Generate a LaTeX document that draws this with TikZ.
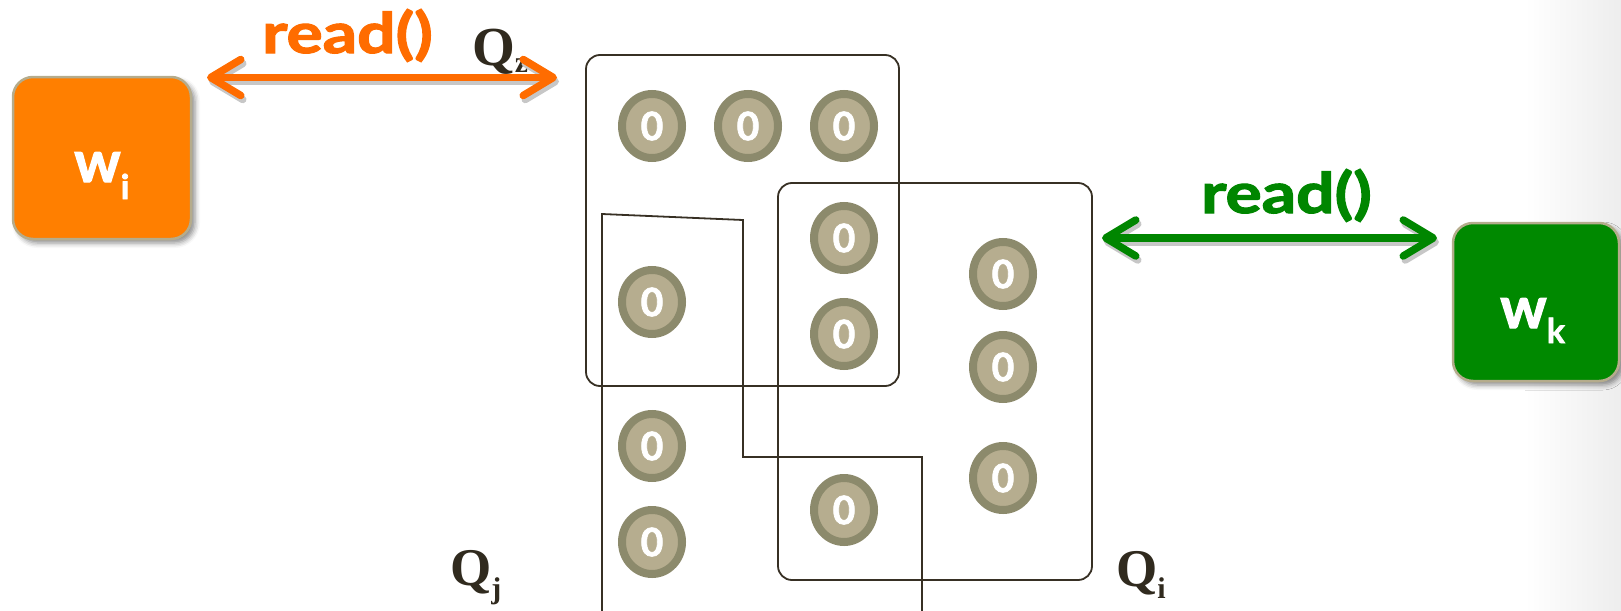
\documentclass[tikz,border=0pt]{standalone}
\usepackage{fontspec}
\setmainfont{Liberation Serif}
\newfontfamily\labelsans{Lato}[BoldFeatures={FakeBold=2}]
\usetikzlibrary{arrows.meta,shapes.geometric,shadows.blur}

\definecolor{wiorange}{RGB}{255,127,0}
\definecolor{readorange}{RGB}{255,108,0}
\definecolor{wkgreen}{RGB}{0,137,0}
\definecolor{readgreen}{RGB}{0,134,0}
\definecolor{boxedge}{RGB}{181,172,140}
\definecolor{setline}{RGB}{55,48,36}
\definecolor{ringdark}{RGB}{140,138,108}
\definecolor{ringlight}{RGB}{182,173,143}
\definecolor{qtext}{RGB}{48,42,30}

\tikzset{
  workerbox/.style={draw=boxedge, line width=2.5pt, rounded corners=20pt,
    blur shadow={shadow xshift=4pt, shadow yshift=-4pt, shadow blur radius=5pt, shadow opacity=45}},
  wlabel/.style={inner sep=0pt, anchor=base west, text=white,
    font=\labelsans\bfseries\fontsize{58}{60}\selectfont},
  readlabel/.style={inner sep=0pt, anchor=base west,
    font=\labelsans\bfseries\fontsize{56}{60}\selectfont},
  readarrow/.style={line width=7.5pt,
    {Straight Barb[length=30pt,width=36pt,round]}-{Straight Barb[length=30pt,width=36pt,round]}},
  arrowshade/.style={readarrow, draw=black!22, transform canvas={shift={(2pt,-4pt)}}},
  setbox/.style={draw=setline, line width=1.8pt, rounded corners=14pt, inner sep=0pt},
  setedge/.style={draw=setline, line width=1.8pt},
  replica/.style={ellipse, draw=ringdark, fill=ringlight, line width=8pt,
    minimum width=60pt, minimum height=64pt, inner sep=0pt, text=white,
    font=\labelsans\bfseries\fontsize{39}{40}\selectfont},
  qlabel/.style={inner sep=0pt, anchor=base west, text=qtext,
    font=\bfseries\fontsize{53}{56}\selectfont},
}
\newcommand{\qsub}[2]{\raisebox{-#1pt}{\fontsize{30}{32}\selectfont #2}}
\newcommand{\wsub}[2]{\raisebox{-#1pt}{\fontsize{34}{36}\selectfont #2}}
\newcommand{\readop}{\scalebox{1.21}[1]{read()}}
\newcommand{\zeroval}{\raisebox{-4pt}{0}}

\begin{document}
\begin{tikzpicture}[x=1pt,y=-1pt]
  \useasboundingbox (0,0) rectangle (1621,610);
  % soft grey fall-off along the right edge of the slide
  \shade[left color=white, right color=black!7] (1525,0) rectangle (1621,610);

  % writers
  \node[workerbox, fill=wiorange, minimum width=178pt, minimum height=162pt] (wi) at (102,158) {};
  \node[workerbox, fill=wkgreen, minimum width=166pt, minimum height=158pt] (wk) at (1536,302) {};
  \node[wlabel] (wit) at (74,182) {w\wsub{17}{i}};
  \node[wlabel] (wkt) at (1500,328) {w\wsub{15}{k}};

  % quorum outlines
  \node[setbox, minimum width=313pt, minimum height=331pt] (qz) at (742.5,220.5) {};
  \node[setbox, minimum width=314pt, minimum height=397pt] (qi) at (935,381.5) {};
  \coordinate (qj1) at (602,614);
  \coordinate (qj2) at (602,214);
  \coordinate (qj3) at (743,220);
  \coordinate (qj4) at (743,457);
  \coordinate (qj5) at (922,457);
  \coordinate (qj6) at (922,614);
  \draw[setedge] (qj1) -- (qj2) -- (qj3) -- (qj4) -- (qj5) -- (qj6);

  % replicas
  \node[replica] (r1) at (652,126) {\zeroval};
  \node[replica] (r2) at (748,126) {\zeroval};
  \node[replica] (r3) at (844,126) {\zeroval};
  \node[replica] (r4) at (844,238) {\zeroval};
  \node[replica] (r5) at (844,334) {\zeroval};
  \node[replica] (r6) at (652,302) {\zeroval};
  \node[replica] (r7) at (652,446) {\zeroval};
  \node[replica] (r8) at (652,542) {\zeroval};
  \node[replica] (r9) at (844,510) {\zeroval};
  \node[replica] (r10) at (1003,274) {\zeroval};
  \node[replica] (r11) at (1003,367) {\zeroval};
  \node[replica] (r12) at (1003,478) {\zeroval};

  % quorum names
  \node[qlabel, font=\bfseries\fontsize{55}{58}\selectfont] (qzt) at (472,66) {Q\qsub{6}{z}};
  \node[qlabel] (qjt) at (450,585) {Q\qsub{13}{j}};
  \node[qlabel] (qit) at (1116,586) {Q\qsub{12}{i}};

  % read operations
  \coordinate (oa) at (207,77.5);
  \coordinate (ob) at (557,77.5);
  \coordinate (ga) at (1102,238);
  \coordinate (gb) at (1437,238);
  \draw[arrowshade] (oa) -- (ob);
  \draw[arrowshade] (ga) -- (gb);
  \draw[readarrow, draw=readorange] (oa) -- (ob);
  \draw[readarrow, draw=readgreen] (ga) -- (gb);
  \node[readlabel, text=readorange] (readi) at (262,53) {\readop};
  \node[readlabel, text=readgreen] (readk) at (1201,213) {\readop};
\end{tikzpicture}
\end{document}
